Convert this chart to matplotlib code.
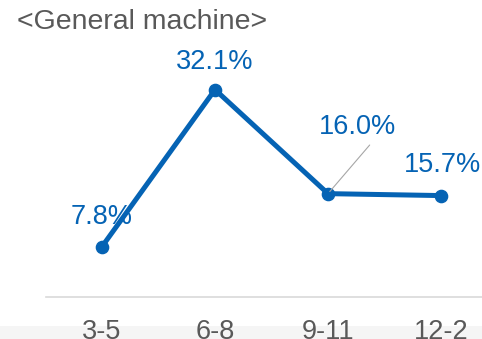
import matplotlib
matplotlib.use("Agg")
import matplotlib.pyplot as plt
from matplotlib.patches import Rectangle

categories = ["3-5", "6-8", "9-11", "12-2"]
values = [7.8, 32.1, 16.0, 15.7]
labels = ["7.8%", "32.1%", "16.0%", "15.7%"]
title = "<General machine>"

blue = "#0563B4"
gray_text = "#595959"

plt.rcParams['font.family'] = ['Liberation Sans', 'DejaVu Sans']

fig = plt.figure(figsize=(4.82, 3.39), dpi=100)
# faint strip at bottom
strip = Rectangle((0, 0), 1, 13/339, transform=fig.transFigure,
                  facecolor="#f5f5f5", edgecolor="none", zorder=-5)
fig.patches.append(strip)

ax = fig.add_axes([45.5/482, 42/339, 452/482, 258.4/339])
ax.set_facecolor("none")
ax.set_zorder(2)
x = list(range(len(categories)))
ax.plot(x, values, color=blue, lw=3.6, marker="o", ms=8.8, zorder=3, clip_on=False)
ax.set_xlim(-0.5, 3.5)
ax.set_ylim(0, 40)
for s in ["top", "right", "left"]:
    ax.spines[s].set_visible(False)
ax.spines["bottom"].set_color("#D9D9D9")
ax.spines["bottom"].set_linewidth(1.2)
ax.set_yticks([])
ax.set_xticks(x)
ax.set_xticklabels(categories, fontsize=19.5, color=gray_text)
ax.tick_params(axis="x", length=0, pad=15.5)

offsets = [(0, 21), (0, 20), (21, 48), (1, 22)]
for i, (v, lab, off) in enumerate(zip(values, labels, offsets)):
    ax.annotate(lab, (i, v), xytext=off, textcoords="offset points",
                ha="center", va="center", fontsize=19.5, color=blue, zorder=4)

# leader line for 16.0%
ax.annotate("", xy=(2, values[2]), xytext=(30, 35), textcoords="offset points",
            arrowprops=dict(arrowstyle="-", color="#A6A6A6", lw=0.8,
                            shrinkA=0, shrinkB=2))

fig.text(17/482, 1 - 22/339, title, fontsize=20.5, color=gray_text,
         ha="left", va="center")

fig.savefig("out.png", dpi=100)
